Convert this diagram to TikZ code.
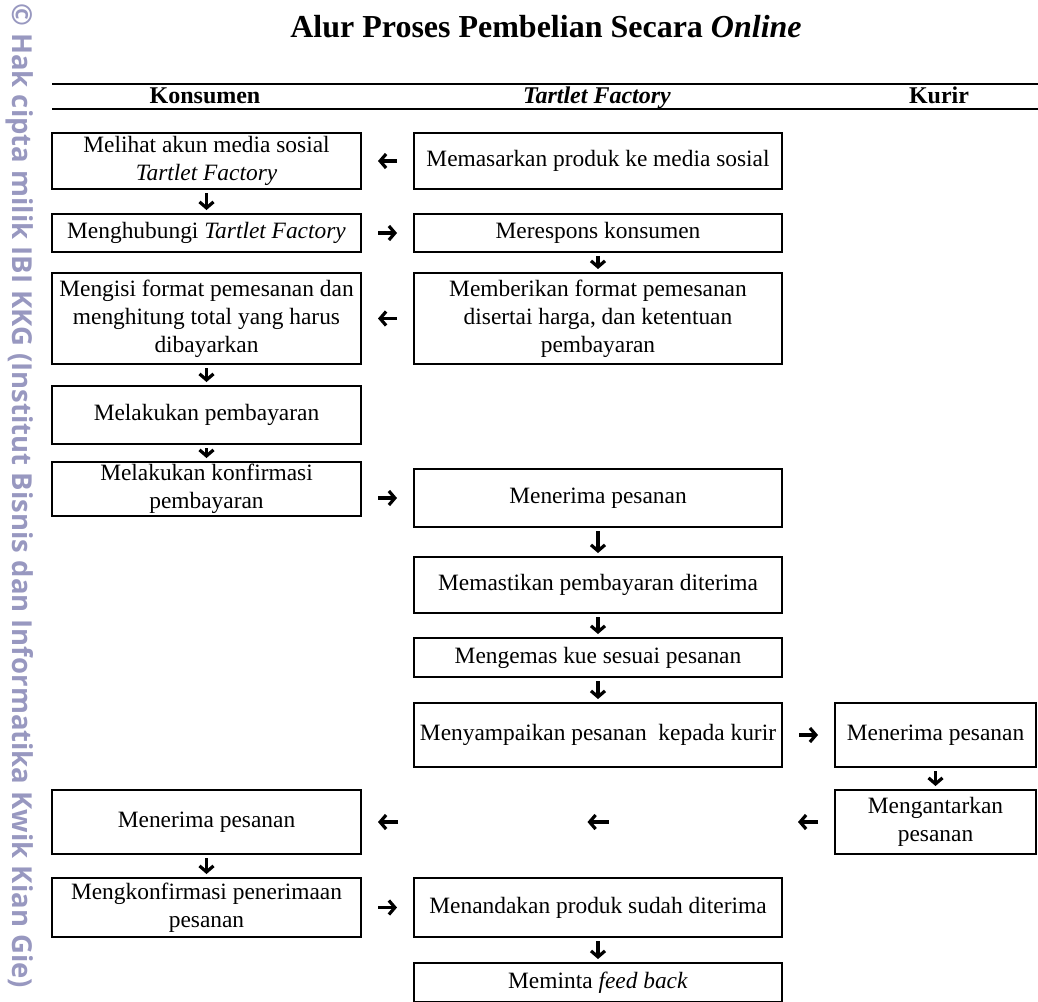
\documentclass[tikz,border=0pt]{standalone}
\usepackage{fontspec}
\setmainfont{Liberation Serif}
\newfontfamily\wmfont{Open Sans}
\usetikzlibrary{arrows.meta,positioning}
\definecolor{wmgray}{RGB}{152,152,192}

\begin{document}
\begin{tikzpicture}[x=1pt,y=-1pt,
	kotak/.style={draw,line width=2pt,align=center,inner sep=0pt,font=\fontsize{23.4}{28}\selectfont},
	kons/.style={kotak,minimum width=309pt},
	tf/.style={kotak,minimum width=368pt},
	kur/.style={kotak,minimum width=201pt},
	kepala/.style={anchor=base,font=\fontsize{24}{28}\selectfont\bfseries},
	panah/.style={-{Straight Barb[length=6pt,width=14pt]},line width=3.2pt},
	kanan/.style={panah,shorten <=16pt,shorten >=16pt},
	bawah/.style={panah,shorten <=3pt,shorten >=3pt}]
			\useasboundingbox (0,0) rectangle (1038,1001);
			\node[rotate=-90,anchor=west,text=wmgray,inner sep=0pt] (watermark) at (20,3) {\resizebox{985pt}{!}{\wmfont\bfseries © Hak cipta milik IBI KKG (Institut Bisnis dan Informatika Kwik Kian Gie)}};
			\node[anchor=base,font=\fontsize{32}{38}\selectfont\bfseries] (judul) at (546,37) {Alur Proses Pembelian Secara \textit{Online}};
			\draw[line width=2pt] (52,84) -- (1038,84) (52,109) -- (1038,109);
			\node[kepala] (hkons) at (205,103) {Konsumen};
			\node[kepala] (htf) at (597,103) {\textit{Tartlet Factory}};
			\node[kepala] (hkur) at (939,103) {Kurir};
			\node[kons,minimum height=56pt] (c1) at (206.5,161) {Melihat akun media sosial\\\textit{Tartlet Factory}};
			\node[kons,minimum height=38pt] (c2) at (206.5,233) {Menghubungi \textit{Tartlet Factory}};
			\node[kons,minimum height=91pt] (c3) at (206.5,318.5) {Mengisi format pemesanan dan\\menghitung total yang harus\\dibayarkan};
			\node[kons,minimum height=58pt] (c4) at (206.5,415) {Melakukan pembayaran};
			\node[kons,minimum height=54pt] (c5) at (206.5,489) {Melakukan konfirmasi\\pembayaran};
			\node[kons,minimum height=64pt] (c6) at (206.5,822) {Menerima pesanan};
			\node[kons,minimum height=59pt] (c7) at (206.5,907.5) {Mengkonfirmasi penerimaan\\pesanan};
			\node[tf,minimum height=56pt] (m1) at (598,161) {Memasarkan produk ke media sosial};
			\node[tf,minimum height=38pt] (m2) at (598,233) {Merespons konsumen};
			\node[tf,minimum height=91pt] (m3) at (598,318.5) {Memberikan format pemesanan\\disertai harga, dan ketentuan\\pembayaran};
			\node[tf,minimum height=58pt] (m4) at (598,498) {Menerima pesanan};
			\node[tf,minimum height=56pt] (m5) at (598,585) {Memastikan pembayaran diterima};
			\node[tf,minimum height=39pt] (m6) at (598,657.5) {Mengemas kue sesuai pesanan};
			\node[tf,minimum height=64pt] (m7) at (598,735) {Menyampaikan pesanan\ \ kepada kurir};
			\node[tf,minimum height=59pt] (m8) at (598,907.5) {Menandakan produk sudah diterima};
			\node[tf,minimum height=39pt] (m9) at (598,982.5) {Meminta \textit{feed back}};
			\node[kur,minimum height=64pt] (k1) at (935.5,735) {Menerima pesanan};
			\node[kur,minimum height=64pt] (k2) at (935.5,822) {Mengantarkan\\pesanan};
			\coordinate (tfkanan) at (782,822);
			\coordinate (tfkiri) at (414,822);
			\foreach \a/\b in {c1/c2,c3/c4,c4/c5,c6/c7,m2/m3,m4/m5,m5/m6,m6/m7,m8/m9,k1/k2} \draw[bawah] (\a) -- (\b);
			\foreach \a/\b in {m1/c1,c2/m2,m3/c3,m7/k1,c7/m8} \draw[kanan] (\a) -- (\b);
			\draw[kanan] (c5.east |- m4.west) -- (m4.west);
			\draw[kanan] (k2.west) -- (tfkanan);
			\draw[panah,shorten <=173.5pt,shorten >=173.5pt] (tfkanan) -- (tfkiri);
			\draw[kanan] (tfkiri) -- (c6.east);
		\end{tikzpicture}
\end{document}
